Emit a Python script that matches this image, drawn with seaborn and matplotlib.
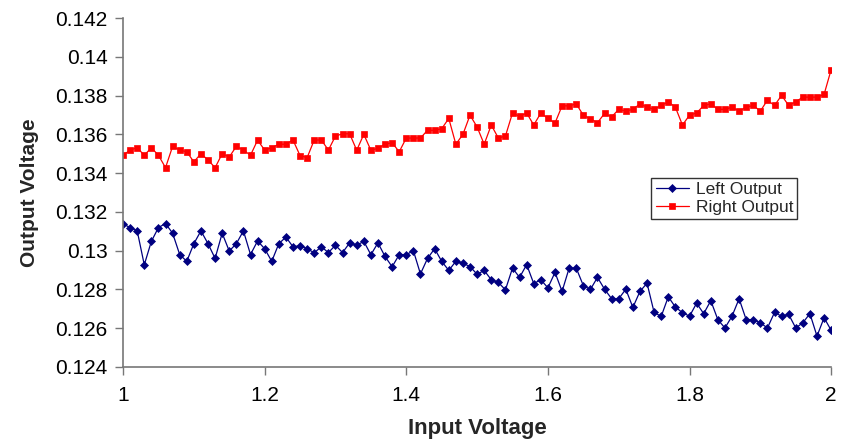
import numpy as np
import pandas as pd
import matplotlib
matplotlib.use('Agg')
import matplotlib.pyplot as plt
import seaborn as sns

# values (input step 0.01 V)
input_voltage = np.linspace(1.0, 2.0, 101)
left_output = [
    0.13138, 0.13119, 0.13102, 0.12927, 0.13048, 0.13119, 0.1314, 0.1309, 0.1298, 0.12945,
    0.13036, 0.13102, 0.13036, 0.1296, 0.1309, 0.12998, 0.13036, 0.13102, 0.1298, 0.1305,
    0.1301, 0.12945, 0.13036, 0.1307, 0.1302, 0.13025, 0.1301, 0.12989, 0.1302, 0.1299,
    0.13028, 0.1299, 0.1304, 0.13028, 0.13048, 0.12979, 0.1304, 0.1297, 0.12917, 0.12979,
    0.12979, 0.1300, 0.1288, 0.1296, 0.1301, 0.12945, 0.12898, 0.12945, 0.12935, 0.12918,
    0.12878, 0.12898, 0.1285, 0.12836, 0.12798, 0.1291, 0.12862, 0.12928, 0.1283, 0.1285,
    0.12808, 0.12888, 0.1279, 0.1291, 0.1291, 0.1282, 0.128, 0.12862, 0.12801, 0.12752,
    0.12752, 0.12801, 0.12707, 0.1279, 0.12832, 0.12681, 0.12661, 0.12762, 0.12709, 0.1268,
    0.12662, 0.12729, 0.12675, 0.12742, 0.12644, 0.12601, 0.12662, 0.12752, 0.12644, 0.12644,
    0.12628, 0.12601, 0.12681, 0.12662, 0.12671, 0.12601, 0.12628, 0.12675, 0.12559, 0.12654,
    0.12589,
]
right_output = [
    0.13492, 0.13519, 0.13531, 0.13492, 0.13531, 0.13492, 0.13428, 0.13538, 0.13519, 0.1351,
    0.13458, 0.135, 0.13468, 0.13428, 0.135, 0.13483, 0.13538, 0.13519, 0.13492, 0.1357,
    0.13519, 0.13531, 0.13549, 0.13549, 0.13571, 0.1349, 0.1348, 0.13571, 0.13571, 0.13519,
    0.13591, 0.13603, 0.13603, 0.13518, 0.136, 0.13518, 0.13528, 0.13549, 0.13557, 0.1351,
    0.13581, 0.13581, 0.13581, 0.13621, 0.13621, 0.13629, 0.13682, 0.13549, 0.136, 0.13699,
    0.13638, 0.13549, 0.13648, 0.13581, 0.13591, 0.1371, 0.13693, 0.1371, 0.13648, 0.1371,
    0.13682, 0.13658, 0.13747, 0.13747, 0.13757, 0.13699, 0.1368, 0.1366, 0.13708, 0.1369,
    0.13729, 0.1372, 0.13729, 0.13757, 0.1374, 0.13729, 0.13749, 0.13768, 0.1374, 0.13648,
    0.13699, 0.1371, 0.13749, 0.13757, 0.13729, 0.13729, 0.1374, 0.1372, 0.1374, 0.13749,
    0.1372, 0.13776, 0.13749, 0.13801, 0.13749, 0.13768, 0.13792, 0.13792, 0.13792, 0.13806,
    0.13934,
]
x_ticks = [1, 1.2, 1.4, 1.6, 1.8, 2]
x_tick_labels = ['1', '1.2', '1.4', '1.6', '1.8', '2']
y_ticks = [0.124, 0.126, 0.128, 0.13, 0.132, 0.134, 0.136, 0.138, 0.14, 0.142]
y_tick_labels = ['0.124', '0.126', '0.128', '0.13', '0.132', '0.134', '0.136', '0.138', '0.14', '0.142']

sns.set_style('white')
plt.rcParams['font.family'] = ['Liberation Sans', 'DejaVu Sans']

fig = plt.figure(figsize=(8.41, 4.4), dpi=100)
ax = fig.add_axes([0.1463, 0.166, 0.842, 0.793])

sns.lineplot(x=input_voltage, y=left_output, ax=ax, color='#000080', lw=0.9,
             marker='D', markersize=4, markeredgecolor='#000080', markeredgewidth=0.5,
             label='Left Output')
sns.lineplot(x=input_voltage, y=right_output, ax=ax, color='#FF0000', lw=0.9,
             marker='s', markersize=5, markeredgecolor='#FF0000', markeredgewidth=0.5,
             label='Right Output')

ax.set_xlim(1, 2)
ax.set_ylim(0.124, 0.142)
ax.set_xticks(x_ticks)
ax.set_xticklabels(x_tick_labels)
ax.set_yticks(y_ticks)
ax.set_yticklabels(y_tick_labels)
ax.tick_params(axis='both', direction='out', length=6, width=1, color='#777777',
               labelsize=15, labelcolor='black', pad=5, left=True, bottom=True)
ax.tick_params(axis='x', pad=8)

sns.despine(ax=ax)
for side in ['left', 'bottom']:
    ax.spines[side].set_color('#777777')
    ax.spines[side].set_linewidth(1.2)
for t in ax.get_xticklabels():
    t.set_clip_on(False)

ax.set_xlabel('Input Voltage', fontsize=16, fontweight='bold', labelpad=9)
ax.set_ylabel('Output Voltage', fontsize=15, fontweight='bold', labelpad=12)

leg = ax.legend(loc='upper left', bbox_to_anchor=(0.746, 0.542), borderaxespad=0,
                frameon=True, fancybox=False, edgecolor='black', fontsize=12.5,
                handlelength=1.9, handletextpad=0.4, borderpad=0.25, labelspacing=0.15)
leg.get_frame().set_linewidth(1)

fig.savefig('out.png', dpi=100, facecolor='white')
